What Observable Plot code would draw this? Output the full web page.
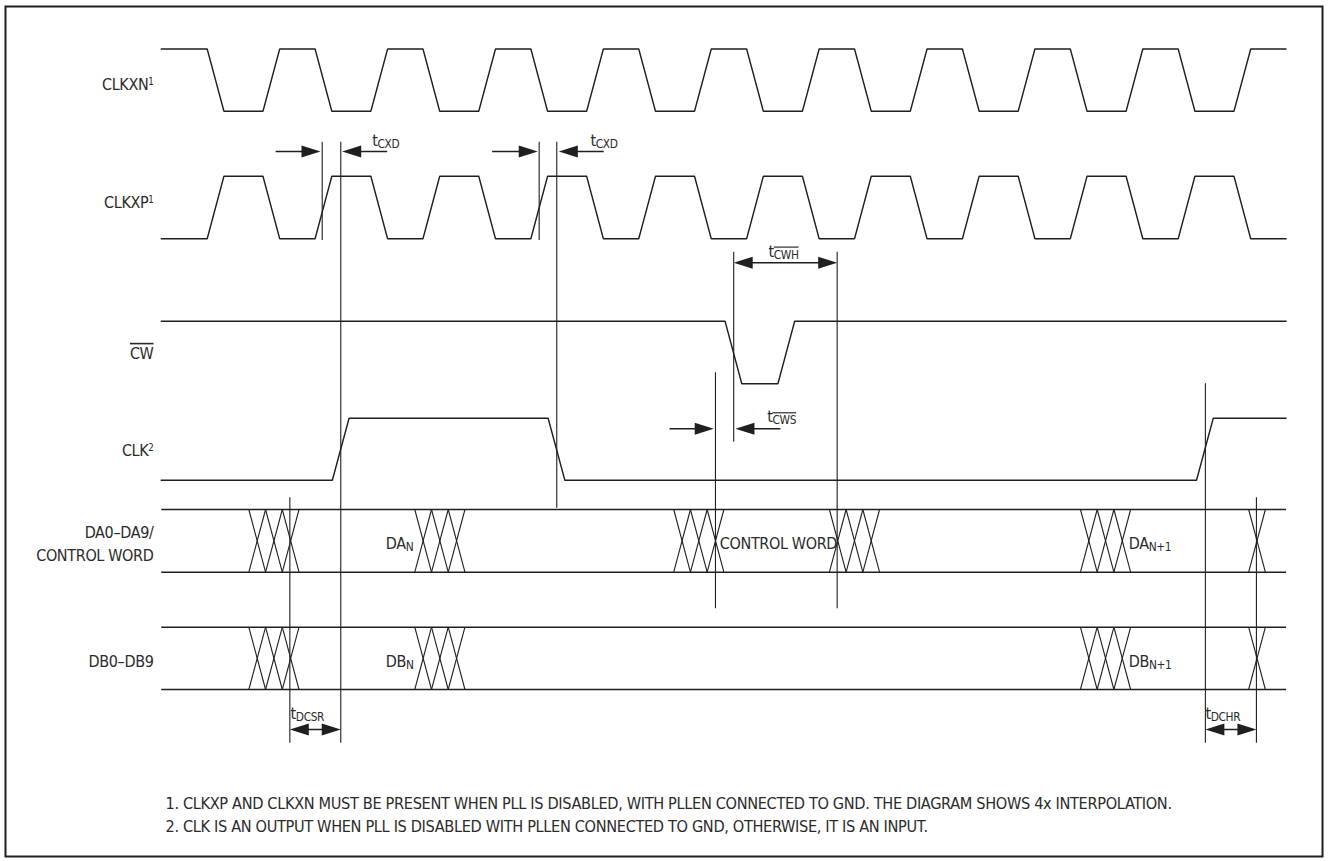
<!DOCTYPE html>
<html>
<head>
<meta charset="utf-8">
<script src="https://cdn.jsdelivr.net/npm/d3@7"></script>
<script src="https://cdn.jsdelivr.net/npm/@observablehq/plot@0.6"></script>
<style>
html, body { margin: 0; padding: 0; background: #fff; }
#chart svg { display: block; }
</style>
</head>
<body>
<div id="chart"></div>
<script>
// ---------------- DATA (time unit = one CLKXP period) ----------------
const tStart = -0.426;
const tEnd = 10;
const edgeWidth = 0.155;

const signalIds = ["CLKXN", "CLKXP", "CW", "CLK"];
const signalStartLevel = [1, 0, 1, 0];
const clkxEdges = [0, 0.517, 1, 1.517, 2, 2.517, 3, 3.517, 4, 4.517, 5, 5.517, 6, 6.517, 7, 7.517, 8, 8.517, 9, 9.517];
const cwEdges = [4.80, 5.29];
const clkEdges = [1.16, 3.16, 9.17];
const signalEdges = [clkxEdges, clkxEdges, cwEdges, clkEdges];

const rowLabels = ["CLKXN^{1}", "CLKXP^{1}", "~{CW}", "CLK^{2}", "DA0–DA9/", "CONTROL WORD", "DB0–DB9"];

const busIds = ["DA", "DB"];
const crossBus = ["DA", "DA", "DA", "DA", "DA", "DA", "DB", "DB", "DB", "DB"];
const crossStart = [0.386, 1.924, 4.324, 5.767, 8.094, 9.653, 0.386, 1.924, 8.094, 9.653];
const crossCount = [3, 3, 3, 3, 3, 1, 3, 3, 3, 1];

const busTexts = ["DA_{N}", "CONTROL WORD", "DA_{N+1}", "DB_{N}", "DB_{N+1}"];
const busTextBus = ["DA", "DA", "DA", "DB", "DB"];
const busTextT = [1.655, 4.751, 8.541, 1.655, 8.541];

const guideT = [1.066, 1.238, 3.077, 3.240, 4.880, 5.839, 4.711, 0.766, 9.252, 9.725];

const timingLabels = ["t_{CXD}", "t_{CXD}", "t_~{CWH}", "t_~{CWS}", "t_{DCSR}", "t_{DCHR}"];
const timingLabelT = [1.529, 3.552, 5.202, 5.190, 0.772, 9.252];

const singleArrowTail = [0.634, 1.668, 2.641, 3.676, 4.285, 5.313];
const singleArrowTip = [1.050, 1.251, 3.064, 3.259, 4.695, 4.896];
const doubleArrowA = [4.880, 0.766, 9.252];
const doubleArrowB = [5.839, 1.238, 9.725];

const footnotes = [
  "1. CLKXP AND CLKXN MUST BE PRESENT WHEN PLL IS DISABLED, WITH PLLEN CONNECTED TO GND. THE DIAGRAM SHOWS 4x INTERPOLATION.",
  "2. CLK IS AN OUTPUT WHEN PLL IS DISABLED WITH PLLEN CONNECTED TO GND, OTHERWISE, IT IS AN INPUT."
];

// ---------------- LAYOUT (positions in diagram units / pixels) ----------------
const layout = {
  width: 1328, height: 861,
  xDomain: [0, 9], xRange: [206.7, 1177.7],
  laneHigh: [48.5, 175.7, 320.7, 417.7],
  laneLow: [110.7, 238.3, 383.3, 479.7],
  rowLabelBaseline: [89, 207.5, 358.3, 455, 537.3, 560, 666],
  rowLabelRight: 153,
  busTop: [509, 626.7],
  busBottom: [571.7, 689],
  busTextBaseline: [548, 666],
  guideY1: [141.7, 141.7, 141.7, 141.7, 251.7, 251.7, 372.3, 497.3, 383.3, 497.3],
  guideY2: [240, 742.7, 240, 507.7, 441.7, 608.3, 608.3, 742.7, 742.7, 742.7],
  timingLabelBaseline: [145.7, 145.7, 256, 421.7, 718, 718],
  singleArrowY: [151, 151, 151, 151, 428.3, 428.3],
  doubleArrowY: [262.3, 729, 729],
  headLenPx: 19, headHalf: 6,
  footnoteLeft: 165, footnoteBaseline: [808.3, 831]
};
const INK = "#1f1f1f";
const TEXT = "#2b2b2b";
const FONT = "'Liberation Sans Narrow', 'Arial Narrow', 'DejaVu Sans Condensed', sans-serif";

// ---------------- build mark tables ----------------
const waveRows = [];
signalIds.forEach((id, i) => {
  const yOf = lv => lv ? layout.laneHigh[i] : layout.laneLow[i];
  let cur = signalStartLevel[i];
  waveRows.push({id, t: tStart, y: yOf(cur)});
  for (const e of signalEdges[i]) {
    waveRows.push({id, t: e, y: yOf(cur)});
    cur = 1 - cur;
    waveRows.push({id, t: e + edgeWidth, y: yOf(cur)});
  }
  waveRows.push({id, t: tEnd, y: yOf(cur)});
});

const busLines = [];
busIds.forEach((b, i) => {
  busLines.push({x1: tStart, x2: tEnd, y: layout.busTop[i]});
  busLines.push({x1: tStart, x2: tEnd, y: layout.busBottom[i]});
});

const crossLinks = [];
crossStart.forEach((s, k) => {
  const bi = busIds.indexOf(crossBus[k]);
  const top = layout.busTop[bi], bot = layout.busBottom[bi];
  for (let j = 0; j < crossCount[k]; j++) {
    const a = s + j * edgeWidth, b = a + edgeWidth;
    crossLinks.push({x1: a, y1: top, x2: b, y2: bot});
    crossLinks.push({x1: b, y1: top, x2: a, y2: bot});
  }
});

const guides = guideT.map((t, i) => ({t, y1: layout.guideY1[i], y2: layout.guideY2[i]}));

const pxPerUnit = (layout.xRange[1] - layout.xRange[0]) / (layout.xDomain[1] - layout.xDomain[0]);
const hl = layout.headLenPx / pxPerUnit;
const hw = layout.headHalf;
const shafts = [];
const heads = [];
let hid = 0;
function addHead(tip, dir, y) {
  const id = hid++;
  heads.push({id, t: tip, y});
  heads.push({id, t: tip - dir * hl, y: y - hw});
  heads.push({id, t: tip - dir * hl, y: y + hw});
  heads.push({id, t: tip, y});
}
singleArrowTail.forEach((tail, i) => {
  const tip = singleArrowTip[i], y = layout.singleArrowY[i];
  const dir = Math.sign(tip - tail);
  shafts.push({x1: tail, x2: tip - dir * hl * 0.5, y});
  addHead(tip, dir, y);
});
doubleArrowA.forEach((a, i) => {
  const b = doubleArrowB[i], y = layout.doubleArrowY[i];
  shafts.push({x1: a + hl * 0.5, x2: b - hl * 0.5, y});
  addHead(a, -1, y);
  addHead(b, 1, y);
});

const rowLabelData = rowLabels.map((label, i) => ({label, b: layout.rowLabelBaseline[i]}));
const busTextData = busTexts.map((label, i) => ({label, t: busTextT[i], b: layout.busTextBaseline[busIds.indexOf(busTextBus[i])]}));
const timingData = timingLabels.map((label, i) => ({label, t: timingLabelT[i], b: layout.timingLabelBaseline[i]}));
const footData = footnotes.map((label, i) => ({label, b: layout.footnoteBaseline[i]}));

// ---------------- plot ----------------
const chart = Plot.plot({
  width: layout.width,
  height: layout.height,
  margin: 0,
  x: {domain: layout.xDomain, range: layout.xRange, axis: null},
  y: {domain: [0, layout.height], range: [0, layout.height], axis: null},
  style: {fontFamily: FONT, background: "#fff", overflow: "visible", letterSpacing: "-0.35px"},
  marks: [
    Plot.frame({stroke: INK, strokeWidth: 2, insetLeft: 5, insetTop: 6, insetRight: 6, insetBottom: 5}),
    Plot.line(waveRows, {x: "t", y: "y", z: "id", stroke: INK, strokeWidth: 1.4, strokeLinejoin: "miter"}),
    Plot.link(busLines, {x1: "x1", x2: "x2", y1: "y", y2: "y", stroke: INK, strokeWidth: 1.4}),
    Plot.link(crossLinks, {x1: "x1", y1: "y1", x2: "x2", y2: "y2", stroke: INK, strokeWidth: 1.1}),
    Plot.ruleX(guides, {x: "t", y1: "y1", y2: "y2", stroke: INK, strokeWidth: 1.1}),
    Plot.link(shafts, {x1: "x1", x2: "x2", y1: "y", y2: "y", stroke: INK, strokeWidth: 1.4}),
    Plot.line(heads, {x: "t", y: "y", z: "id", fill: INK, stroke: "none"}),
    Plot.text(rowLabelData, {y: "b", text: "label", frameAnchor: "left", dx: layout.rowLabelRight, textAnchor: "end", lineAnchor: "bottom", fontSize: 16, fill: TEXT}),
    Plot.text(busTextData, {x: "t", y: "b", text: "label", textAnchor: "start", lineAnchor: "bottom", fontSize: 16, fill: TEXT}),
    Plot.text(timingData, {x: "t", y: "b", text: "label", textAnchor: "start", lineAnchor: "bottom", fontSize: 16, fill: TEXT}),
    Plot.text(footData, {y: "b", text: "label", frameAnchor: "left", dx: layout.footnoteLeft, textAnchor: "start", lineAnchor: "bottom", fontSize: 16.2, fill: TEXT})
  ]
});

// rich text: _{sub}, ^{sup}, ~{overline}, _~{overlined sub}
function richify(svg) {
  const re = /(_~|_|\^|~)\{([^}]*)\}/g;
  const NS = "http://www.w3.org/2000/svg";
  svg.querySelectorAll("text").forEach(textEl => {
    const leaves = textEl.querySelector("tspan") ? Array.from(textEl.querySelectorAll("tspan")) : [textEl];
    leaves.forEach(el => {
      const s = el.textContent;
      re.lastIndex = 0;
      if (!re.test(s)) return;
      re.lastIndex = 0;
      el.textContent = "";
      let last = 0, m, shift = 0;
      const add = (txt, kind) => {
        const ts = document.createElementNS(NS, "tspan");
        ts.textContent = txt;
        let target = 0;
        if (kind === "_" || kind === "_~") { ts.style.fontSize = "0.74em"; target = 2; }
        if (kind === "^") { ts.style.fontSize = "0.6em"; target = -5; }
        if (kind === "~" || kind === "_~") ts.setAttribute("text-decoration", "overline");
        if (target !== shift) { ts.setAttribute("dy", target - shift); shift = target; }
        el.appendChild(ts);
      };
      while ((m = re.exec(s))) {
        if (m.index > last) add(s.slice(last, m.index), "");
        add(m[2], m[1]);
        last = re.lastIndex;
      }
      if (last < s.length) add(s.slice(last), "");
    });
  });
}
richify(chart);
document.getElementById("chart").appendChild(chart);
</script>
</body>
</html>
